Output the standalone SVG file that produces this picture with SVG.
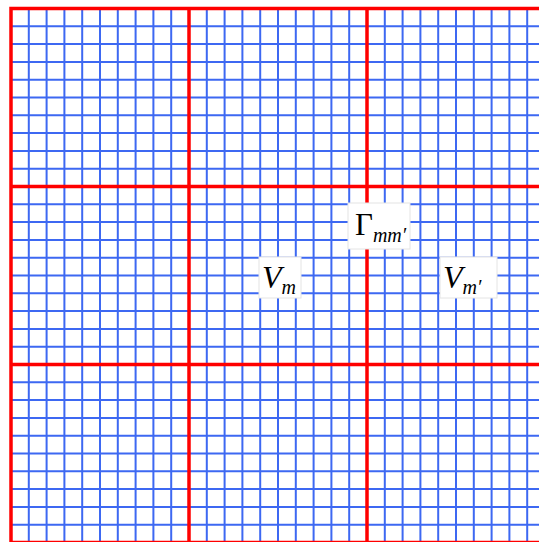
<svg xmlns="http://www.w3.org/2000/svg" width="539" height="542" viewBox="0 0 539 542">
<style>
.blue{stroke:#3d68f2;stroke-width:2;fill:none}
.red{stroke:#ff0000;stroke-width:3.5;fill:none}
.box{fill:#ffffff;stroke:#e4e4e4;stroke-width:1}
.t{font-family:"Liberation Serif","Times New Roman",serif;fill:#000}
.it{font-style:italic}
</style>
<rect width="539" height="542" fill="#ffffff"/>
<g id="grid">
<path class="blue" d="M28.8 8.5V545M46.6 8.5V545M64.4 8.5V545M82.2 8.5V545M100 8.5V545M117.8 8.5V545M135.6 8.5V545M153.4 8.5V545M171.2 8.5V545M206.8 8.5V545M224.6 8.5V545M242.4 8.5V545M260.2 8.5V545M278 8.5V545M295.8 8.5V545M313.6 8.5V545M331.4 8.5V545M349.2 8.5V545M384.8 8.5V545M402.6 8.5V545M420.4 8.5V545M438.2 8.5V545M456 8.5V545M473.8 8.5V545M491.6 8.5V545M509.4 8.5V545M527.2 8.5V545"/>
<path class="blue" d="M11 26.3H545M11 44.1H545M11 61.9H545M11 79.7H545M11 97.5H545M11 115.3H545M11 133.1H545M11 150.9H545M11 168.7H545M11 204.3H545M11 222.1H545M11 239.9H545M11 257.7H545M11 275.5H545M11 293.3H545M11 311.1H545M11 328.9H545M11 346.7H545M11 382.3H545M11 400.1H545M11 417.9H545M11 435.7H545M11 453.5H545M11 471.3H545M11 489.1H545M11 506.9H545M11 524.7H545"/>
<path class="red" d="M11 8.5V545M189 8.5V545M367 8.5V545M9.25 8.5H545M9.25 186.5H545M9.25 364.5H545M9.25 542.5H545"/>
</g>
<g id="gamma">
<rect class="box" x="348" y="203" width="62" height="46"/>
<text class="t" x="355" y="235" font-size="31">Γ<tspan class="it" font-size="20" dy="7">mm′</tspan></text>
</g>
<g id="vm">
<rect class="box" x="259" y="257" width="42" height="41"/>
<text class="t" x="262" y="288" font-size="32"><tspan class="it">V</tspan><tspan class="it" font-size="20" dy="6">m</tspan></text>
</g>
<g id="vmp">
<rect class="box" x="440" y="257" width="57" height="41"/>
<text class="t" x="443" y="288" font-size="32"><tspan class="it">V</tspan><tspan class="it" font-size="20" dy="6">m′</tspan></text>
</g>
</svg>
